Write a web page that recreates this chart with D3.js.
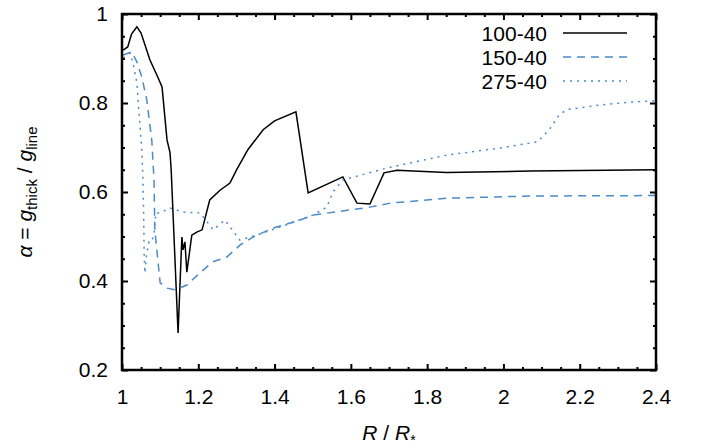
<!DOCTYPE html>
<html>
<head>
<meta charset="utf-8">
<script src="https://cdn.jsdelivr.net/npm/d3@7"></script>
<style>
  body { margin: 0; background: #fff; }
  svg text { font-family: "Liberation Sans", Arial, sans-serif; fill: #000; }
  .axis path { display: none; }
  .axis line { stroke: #000; stroke-width: 2; }
</style>
</head>
<body>
<svg id="chart" width="701" height="448"></svg>
<script>
// series names shown in the legend
const seriesNames = ["100-40", "150-40", "275-40"];

// 100-40 (solid black): [R/R*, alpha]
const s100 = [
  [1.003, 0.919], [1.015, 0.926], [1.025, 0.955], [1.039, 0.971], [1.05, 0.957],
  [1.073, 0.897], [1.094, 0.858], [1.105, 0.836], [1.118, 0.717], [1.126, 0.688],
  [1.129, 0.649], [1.147, 0.283], [1.157, 0.499], [1.160, 0.47], [1.165, 0.488],
  [1.170, 0.42], [1.183, 0.503], [1.196, 0.51], [1.21, 0.515], [1.23, 0.582],
  [1.257, 0.604], [1.283, 0.62], [1.30, 0.649], [1.33, 0.695], [1.37, 0.74],
  [1.40, 0.76], [1.456, 0.78], [1.488, 0.598], [1.579, 0.634], [1.616, 0.575],
  [1.650, 0.573], [1.687, 0.643], [1.721, 0.649], [1.85, 0.644], [2.07, 0.647],
  [2.4, 0.65]
];

// 150-40 (dashed blue)
const s150 = [
  [1.003, 0.908], [1.026, 0.915], [1.039, 0.892], [1.052, 0.858], [1.065, 0.807],
  [1.078, 0.717], [1.084, 0.627], [1.086, 0.515], [1.100, 0.396], [1.118, 0.384],
  [1.139, 0.380], [1.170, 0.391], [1.204, 0.418], [1.238, 0.443], [1.275, 0.454],
  [1.31, 0.481], [1.344, 0.499], [1.396, 0.519], [1.467, 0.537], [1.50, 0.548],
  [1.65, 0.566], [1.703, 0.575], [1.852, 0.586], [2.07, 0.591], [2.4, 0.592]
];

// 275-40 (dotted blue)
const s275 = [
  [1.003, 0.901], [1.021, 0.912], [1.029, 0.890], [1.039, 0.845], [1.044, 0.784],
  [1.052, 0.694], [1.055, 0.627], [1.057, 0.537], [1.058, 0.463], [1.060, 0.418],
  [1.065, 0.463], [1.071, 0.488], [1.078, 0.488], [1.084, 0.508], [1.089, 0.553],
  [1.10, 0.553], [1.126, 0.564], [1.160, 0.555], [1.205, 0.553], [1.239, 0.515],
  [1.27, 0.537], [1.309, 0.492], [1.353, 0.503], [1.414, 0.521], [1.501, 0.548],
  [1.537, 0.566], [1.553, 0.60], [1.579, 0.627], [1.695, 0.654], [1.852, 0.683],
  [1.94, 0.693], [2.0, 0.700], [2.09, 0.713], [2.12, 0.74], [2.145, 0.772],
  [2.165, 0.785], [2.25, 0.795], [2.33, 0.802], [2.4, 0.805]
];

const xTicks = [1, 1.2, 1.4, 1.6, 1.8, 2, 2.2, 2.4];
const yTicks = [0.2, 0.4, 0.6, 0.8, 1];

const blue = "#4a8bc9";
const W = 701, H = 448;
const m = { left: 122, top: 14, right: 45, bottom: 78 };
const pw = W - m.left - m.right, ph = H - m.top - m.bottom;

const svg = d3.select("#chart");
const g = svg.append("g").attr("transform", `translate(${m.left},${m.top})`);

const x = d3.scaleLinear().domain([1, 2.4]).range([0, pw]);
const y = d3.scaleLinear().domain([0.2, 1]).range([ph, 0]);

const xMinor = d3.range(1, 2.4001, 0.05).filter(v => Math.abs(v * 5 - Math.round(v * 5)) > 1e-6);
const yMinor = d3.range(0.2, 1.0001, 0.05).filter(v => Math.abs(v * 5 - Math.round(v * 5)) > 1e-6);

// major ticks with labels
g.append("g").attr("class", "axis").attr("transform", `translate(0,${ph})`)
  .call(d3.axisBottom(x).tickValues(xTicks).tickSize(-6).tickPadding(19).tickFormat(d3.format("~g")));
g.append("g").attr("class", "axis")
  .call(d3.axisLeft(y).tickValues(yTicks).tickSize(-6).tickPadding(14).tickFormat(d3.format("~g")));
// mirrored majors
g.append("g").attr("class", "axis")
  .call(d3.axisTop(x).tickValues(xTicks).tickSize(-6).tickFormat(""));
g.append("g").attr("class", "axis").attr("transform", `translate(${pw},0)`)
  .call(d3.axisRight(y).tickValues(yTicks).tickSize(-6).tickFormat(""));
// minor ticks
g.append("g").attr("class", "axis").attr("transform", `translate(0,${ph})`)
  .call(d3.axisBottom(x).tickValues(xMinor).tickSize(-3).tickFormat(""));
g.append("g").attr("class", "axis")
  .call(d3.axisTop(x).tickValues(xMinor).tickSize(-3).tickFormat(""));
g.append("g").attr("class", "axis")
  .call(d3.axisLeft(y).tickValues(yMinor).tickSize(-3).tickFormat(""));
g.append("g").attr("class", "axis").attr("transform", `translate(${pw},0)`)
  .call(d3.axisRight(y).tickValues(yMinor).tickSize(-3).tickFormat(""));

g.selectAll(".axis text").attr("font-size", 21).attr("font-family", "Liberation Sans, Arial, sans-serif");

const line = d3.line().x(d => x(d[0])).y(d => y(d[1]));

const styles = [
  { data: s100, color: "#000", dash: null },
  { data: s150, color: blue, dash: "8,6" },
  { data: s275, color: blue, dash: "2,5" }
];

styles.forEach(s => {
  g.append("path").datum(s.data)
    .attr("fill", "none")
    .attr("stroke", s.color)
    .attr("stroke-width", 1.5)
    .attr("stroke-dasharray", s.dash)
    .attr("d", line);
});

// frame
g.append("rect").attr("width", pw).attr("height", ph)
  .attr("fill", "none").attr("stroke", "#000").attr("stroke-width", 2.5);

// legend
const leg = svg.append("g");
seriesNames.forEach((name, i) => {
  const yy = 33 + i * 24;
  leg.append("text").attr("x", 547).attr("y", yy + 8)
    .attr("text-anchor", "end").attr("font-size", 21).text(name);
  leg.append("line").attr("x1", 563).attr("x2", 627).attr("y1", yy).attr("y2", yy)
    .attr("stroke", styles[i].color).attr("stroke-width", 1.5)
    .attr("stroke-dasharray", styles[i].dash);
});

// axis titles
const xt = svg.append("text").attr("x", m.left + pw / 2).attr("y", 440)
  .attr("text-anchor", "middle").attr("font-size", 21);
xt.append("tspan").attr("font-style", "italic").text("R");
xt.append("tspan").text(" / ");
xt.append("tspan").attr("font-style", "italic").text("R");
xt.append("tspan").attr("font-size", 14).attr("dy", 5).text("*");

const yt = svg.append("text")
  .attr("transform", `translate(32,${m.top + ph / 2}) rotate(-90)`)
  .attr("text-anchor", "middle").attr("font-size", 21);
yt.append("tspan").attr("font-style", "italic").text("α");
yt.append("tspan").text(" = ");
yt.append("tspan").attr("font-style", "italic").text("g");
yt.append("tspan").attr("font-size", 15).attr("dy", 5).text("thick");
yt.append("tspan").attr("dy", -5).text(" / ");
yt.append("tspan").attr("font-style", "italic").text("g");
yt.append("tspan").attr("font-size", 15).attr("dy", 5).text("line");
</script>
</body>
</html>
